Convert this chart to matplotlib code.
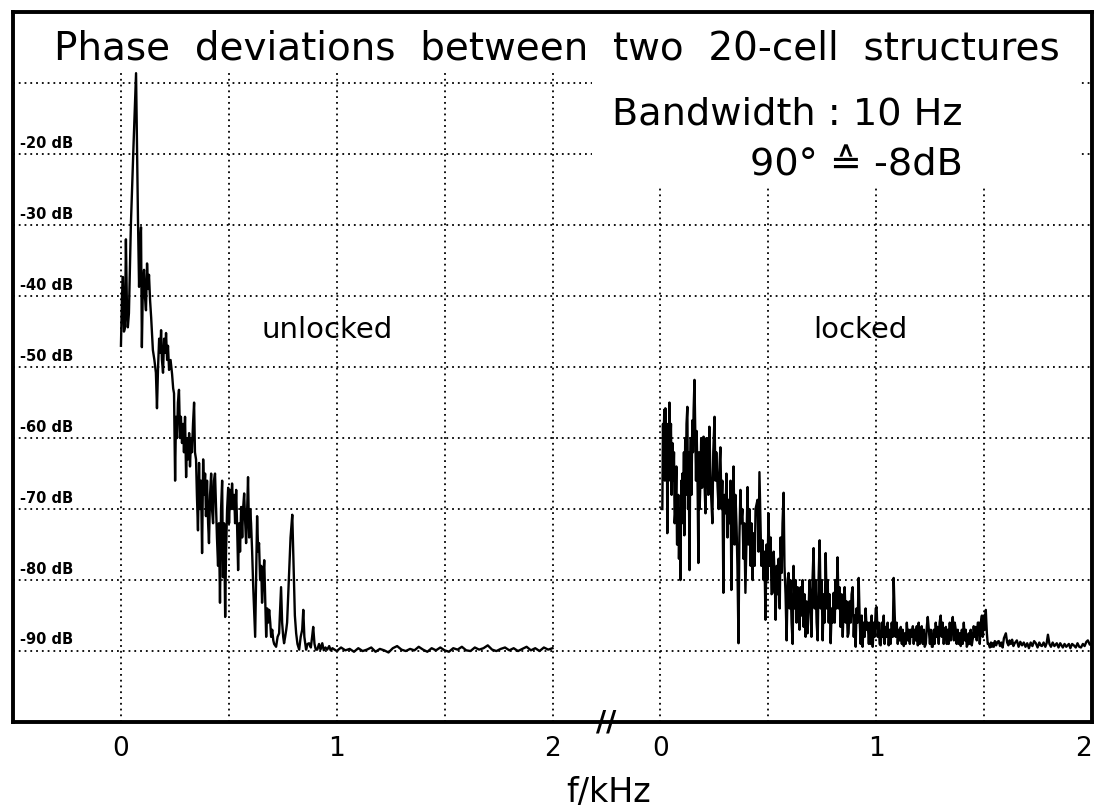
import matplotlib
matplotlib.use("Agg")
import matplotlib.pyplot as plt
from matplotlib.patches import Rectangle

plt.rcParams['font.family'] = ['DejaVu Sans']

# ---------------- data ----------------
title = "Phase deviations between two 20-cell structures"
info_text = "Bandwidth : 10 Hz\n90° ≙ -8dB"
panel_labels = ["unlocked", "locked"]
x_label = "f/kHz"

db_levels = [-20, -30, -40, -50, -60, -70, -80, -90]
db_grid = [-10, -20, -30, -40, -50, -60, -70, -80, -90]
freq_ticks = [0, 1, 2]
freq_grid = [0, 0.5, 1.0, 1.5, 2.0]

# (frequency in kHz, level in dB)
unlocked_points = [
    (0.000, -47), (0.005, -40), (0.009, -37.3), (0.014, -45), (0.019, -44.4),
    (0.023, -32), (0.028, -42), (0.032, -44.4), (0.037, -42.4), (0.046, -30),
    (0.058, -19), (0.070, -8.6), (0.075, -20), (0.079, -29.3), (0.084, -38.7),
    (0.088, -33), (0.093, -30.3), (0.097, -47.2), (0.102, -38), (0.107, -36.3),
    (0.111, -40), (0.116, -42), (0.121, -35.4), (0.126, -39), (0.130, -37),
    (0.135, -40.6), (0.140, -43), (0.148, -47.6), (0.155, -49), (0.162, -50.8),
    (0.167, -55.8), (0.172, -50), (0.177, -46), (0.182, -48), (0.186, -44.8),
    (0.190, -49), (0.195, -50.8), (0.200, -46), (0.205, -48), (0.209, -45.2),
    (0.214, -49), (0.218, -47), (0.223, -50.4), (0.230, -49), (0.237, -51),
    (0.242, -53), (0.246, -53.7), (0.251, -66), (0.255, -57), (0.260, -60),
    (0.264, -55), (0.269, -53.2), (0.274, -60), (0.278, -57), (0.283, -60.7),
    (0.288, -58), (0.292, -62), (0.297, -57), (0.302, -65.5), (0.306, -60),
    (0.311, -63), (0.316, -59.3), (0.320, -64), (0.325, -60), (0.329, -62),
    (0.334, -58), (0.339, -55), (0.343, -62), (0.348, -63), (0.352, -68),
    (0.357, -73), (0.362, -63.5), (0.366, -70), (0.371, -66), (0.376, -76.2),
    (0.381, -63), (0.385, -68), (0.390, -65), (0.394, -71), (0.399, -66),
    (0.404, -72), (0.408, -74.8), (0.413, -68), (0.418, -65), (0.422, -70),
    (0.427, -72), (0.431, -66), (0.436, -65), (0.441, -70), (0.445, -74),
    (0.450, -78), (0.454, -72), (0.459, -83.2), (0.464, -70), (0.469, -66),
    (0.473, -79.6), (0.478, -72), (0.483, -85.2), (0.487, -76), (0.492, -70),
    (0.497, -67), (0.501, -72), (0.506, -67.3), (0.510, -70), (0.515, -66.4),
    (0.520, -70), (0.525, -68), (0.529, -72), (0.534, -67.3), (0.538, -72),
    (0.543, -78.6), (0.548, -72), (0.552, -76), (0.557, -69.7), (0.562, -74),
    (0.566, -70), (0.571, -67.8), (0.576, -72), (0.580, -74.8), (0.585, -70),
    (0.589, -65.5), (0.594, -74), (0.599, -70), (0.603, -72), (0.608, -76),
    (0.613, -81), (0.617, -84), (0.622, -88), (0.627, -78), (0.631, -71),
    (0.636, -76), (0.640, -74.8), (0.645, -80), (0.650, -78), (0.654, -83.2),
    (0.659, -80), (0.664, -77.2), (0.668, -82), (0.673, -88), (0.678, -84),
    (0.682, -86), (0.687, -84.2), (0.692, -86), (0.696, -88), (0.701, -87),
    (0.706, -88.5), (0.710, -89), (0.719, -89.4), (0.726, -88), (0.733, -87.5),
    (0.738, -84), (0.742, -81), (0.747, -86), (0.752, -88), (0.756, -88.9),
    (0.761, -88), (0.766, -87), (0.770, -86), (0.778, -80), (0.786, -74),
    (0.794, -70.8), (0.800, -78), (0.806, -85), (0.812, -87.5), (0.818, -89),
    (0.826, -89.8), (0.833, -88), (0.840, -87), (0.845, -84.2), (0.850, -88),
    (0.858, -89.8), (0.865, -89), (0.872, -88.9), (0.880, -89.5), (0.886, -88),
    (0.891, -86.6), (0.897, -89), (0.903, -89.8), (0.910, -89.8), (0.918, -89),
    (0.925, -89.8), (0.933, -88.9), (0.940, -89.9), (0.948, -89.5), (0.956, -89.8),
    (0.965, -89.3), (0.972, -89.9), (0.980, -89.6), (1.00, -90.0), (1.02, -89.5),
    (1.04, -89.9), (1.06, -89.7), (1.08, -90.1), (1.10, -89.6), (1.12, -90.0),
    (1.14, -89.8), (1.16, -89.5), (1.18, -90.1), (1.20, -89.7), (1.22, -89.9),
    (1.24, -90.2), (1.26, -89.6), (1.28, -89.3), (1.30, -89.8), (1.32, -90.0),
    (1.34, -89.7), (1.36, -89.9), (1.38, -89.4), (1.40, -89.8), (1.42, -90.1),
    (1.44, -89.6), (1.46, -89.9), (1.48, -89.5), (1.50, -89.9), (1.52, -90.1),
    (1.54, -89.6), (1.56, -89.8), (1.58, -89.4), (1.60, -89.9), (1.62, -90.0),
    (1.64, -89.5), (1.66, -89.8), (1.68, -89.6), (1.70, -89.2), (1.72, -89.8),
    (1.74, -90.0), (1.76, -89.7), (1.78, -89.5), (1.80, -89.9), (1.82, -89.6),
    (1.84, -90.0), (1.86, -89.7), (1.88, -89.4), (1.90, -89.9), (1.92, -89.6),
    (1.94, -90.0), (1.96, -89.5), (1.98, -89.8), (2.00, -89.6),
]

# (frequency in kHz, level in dB)
locked_points = [
    (0.009, -70), (0.012, -58), (0.014, -62), (0.018, -56), (0.021, -66),
    (0.023, -55.8), (0.027, -64), (0.030, -58), (0.032, -73.4), (0.036, -60),
    (0.039, -66), (0.042, -55), (0.045, -62), (0.049, -58), (0.052, -68),
    (0.056, -60.7), (0.060, -66), (0.063, -62), (0.066, -72), (0.070, -70),
    (0.074, -64), (0.077, -75), (0.079, -75), (0.083, -68), (0.086, -77),
    (0.090, -70), (0.093, -80), (0.097, -66), (0.100, -72), (0.102, -65),
    (0.106, -70), (0.109, -62), (0.111, -73.7), (0.115, -60), (0.118, -68),
    (0.121, -58), (0.125, -55.6), (0.128, -70), (0.131, -62), (0.135, -78.6),
    (0.138, -64), (0.141, -60), (0.144, -68), (0.148, -57.5), (0.151, -62),
    (0.154, -56), (0.158, -51.8), (0.162, -60), (0.165, -66), (0.168, -59),
    (0.172, -65.5), (0.176, -77.6), (0.179, -62), (0.182, -70), (0.186, -65.5),
    (0.189, -60), (0.193, -67), (0.196, -62), (0.200, -59.8), (0.204, -66),
    (0.209, -70.6), (0.213, -60), (0.218, -62.7), (0.222, -68), (0.227, -58.4),
    (0.231, -64), (0.235, -68), (0.241, -72), (0.245, -62), (0.251, -57),
    (0.255, -66), (0.259, -62), (0.265, -66.9), (0.270, -70), (0.274, -64),
    (0.278, -61.3), (0.283, -70), (0.287, -66), (0.292, -81.8), (0.296, -68),
    (0.302, -70.6), (0.306, -65), (0.311, -74), (0.316, -68.7), (0.320, -72),
    (0.325, -66), (0.329, -81.4), (0.334, -70), (0.339, -64), (0.344, -75),
    (0.348, -68), (0.353, -72.5), (0.357, -78), (0.362, -88.9), (0.366, -74),
    (0.371, -67.3), (0.375, -72), (0.380, -70), (0.385, -77), (0.389, -72),
    (0.394, -81.8), (0.399, -74), (0.404, -66.9), (0.408, -75), (0.413, -70),
    (0.418, -78), (0.422, -72), (0.427, -80), (0.432, -73.4), (0.437, -78),
    (0.441, -70), (0.450, -68.7), (0.455, -76), (0.459, -64.8), (0.464, -72),
    (0.468, -78), (0.473, -74.4), (0.478, -80), (0.482, -76), (0.487, -85.6),
    (0.492, -75), (0.496, -80), (0.501, -70.6), (0.506, -78), (0.511, -74),
    (0.515, -82), (0.520, -81.8), (0.525, -76), (0.530, -80), (0.534, -85.6),
    (0.539, -78), (0.543, -82), (0.548, -77), (0.553, -84), (0.557, -74),
    (0.562, -79), (0.566, -72), (0.571, -67.7), (0.575, -78), (0.580, -82),
    (0.585, -88.5), (0.590, -80), (0.594, -79), (0.599, -84), (0.603, -80),
    (0.608, -86), (0.613, -89), (0.617, -78), (0.622, -84), (0.627, -80),
    (0.631, -86), (0.636, -81), (0.640, -82.4), (0.645, -87), (0.650, -81),
    (0.655, -85), (0.659, -80), (0.664, -86.6), (0.668, -82), (0.673, -88),
    (0.677, -83), (0.682, -87.5), (0.687, -84), (0.691, -80), (0.696, -83),
    (0.700, -88), (0.705, -80), (0.710, -75.5), (0.715, -84), (0.719, -80),
    (0.724, -86), (0.729, -88.5), (0.733, -80), (0.738, -74.4), (0.743, -84),
    (0.747, -80), (0.752, -88.5), (0.757, -82), (0.761, -86), (0.766, -76.2),
    (0.771, -84), (0.775, -80), (0.780, -86), (0.784, -82), (0.789, -88.9),
    (0.794, -84), (0.798, -86), (0.803, -81.8), (0.808, -86), (0.812, -80),
    (0.816, -84), (0.821, -76.8), (0.826, -84), (0.830, -81), (0.835, -86.6),
    (0.840, -82), (0.845, -88), (0.849, -84), (0.854, -81), (0.859, -86),
    (0.863, -83), (0.868, -88), (0.872, -87.5), (0.877, -83), (0.882, -86),
    (0.886, -82), (0.891, -81), (0.896, -88), (0.900, -85), (0.905, -89.4),
    (0.909, -84), (0.914, -86), (0.919, -79.7), (0.924, -86), (0.928, -89),
    (0.933, -85), (0.937, -89.4), (0.942, -86), (0.947, -88), (0.951, -84),
    (0.956, -87), (0.961, -86), (0.966, -89), (0.970, -86), (0.975, -89),
    (0.979, -85), (0.984, -89.4), (0.989, -86), (0.993, -88), (0.998, -84),
    (1.002, -83.8), (1.007, -88), (1.012, -86), (1.016, -89), (1.021, -89.2),
    (1.026, -86), (1.030, -88), (1.035, -85), (1.039, -89), (1.044, -86.6),
    (1.049, -88), (1.053, -86), (1.058, -89.2), (1.063, -87), (1.067, -89),
    (1.072, -86), (1.077, -88), (1.081, -79.7), (1.086, -85), (1.090, -88),
    (1.095, -86), (1.100, -89), (1.105, -87), (1.109, -88.5), (1.114, -86.6),
    (1.119, -89), (1.123, -87), (1.128, -89.3), (1.133, -87.5), (1.137, -89),
    (1.142, -86), (1.147, -88.5), (1.151, -87), (1.156, -89), (1.160, -87),
    (1.165, -88), (1.170, -86.5), (1.174, -89), (1.179, -87), (1.183, -88.5),
    (1.188, -86.5), (1.193, -89.2), (1.197, -86), (1.202, -89), (1.207, -88),
    (1.211, -86.5), (1.216, -89), (1.221, -87), (1.225, -89.4), (1.230, -89),
    (1.235, -86.5), (1.239, -85.2), (1.244, -87), (1.249, -89), (1.253, -87),
    (1.258, -89.4), (1.262, -89.4), (1.267, -87), (1.271, -89), (1.276, -86),
    (1.281, -88), (1.285, -86.6), (1.290, -89), (1.294, -86), (1.299, -85),
    (1.304, -88), (1.308, -86), (1.313, -89), (1.318, -87), (1.323, -86.6),
    (1.327, -89), (1.332, -87), (1.336, -89), (1.341, -86), (1.346, -88.5),
    (1.350, -86.5), (1.355, -85.2), (1.360, -88.5), (1.364, -86), (1.369, -87),
    (1.373, -89), (1.378, -87), (1.383, -89), (1.387, -87.5), (1.392, -89.3),
    (1.397, -87), (1.401, -89), (1.406, -86), (1.411, -88.5), (1.415, -87),
    (1.420, -89.4), (1.425, -89), (1.429, -87.5), (1.434, -89), (1.438, -87),
    (1.443, -89.2), (1.448, -88.2), (1.452, -86.5), (1.457, -88), (1.462, -86.6),
    (1.466, -88.5), (1.471, -86), (1.476, -86), (1.480, -89), (1.485, -86),
    (1.490, -85), (1.494, -88), (1.499, -85), (1.503, -87), (1.508, -84.2),
    (1.513, -87.5), (1.517, -89), (1.522, -89), (1.527, -89.5), (1.532, -88.8),
    (1.536, -89.4), (1.541, -88.9), (1.545, -89.4), (1.550, -88.6), (1.556, -89.2),
    (1.562, -88.7), (1.568, -88.6), (1.574, -89.3), (1.580, -88.8), (1.586, -89.5),
    (1.592, -88.2), (1.601, -87.5), (1.607, -88.8), (1.613, -89.2), (1.618, -88.5),
    (1.624, -89.0), (1.630, -88.4), (1.636, -89.3), (1.642, -88.9), (1.652, -88.5),
    (1.660, -89.4), (1.668, -88.7), (1.676, -89.2), (1.684, -88.8), (1.692, -89.4),
    (1.700, -88.9), (1.708, -89.6), (1.716, -88.8), (1.724, -89.3), (1.732, -88.6),
    (1.740, -88.9), (1.748, -89.5), (1.756, -88.8), (1.762, -89.2), (1.768, -89.3),
    (1.776, -88.8), (1.784, -89.4), (1.790, -88.9), (1.796, -87.7), (1.803, -89.0),
    (1.810, -89.4), (1.818, -88.8), (1.826, -89.3), (1.837, -88.9), (1.845, -89.5),
    (1.853, -88.9), (1.865, -89.5), (1.873, -89.0), (1.881, -89.4), (1.893, -89.0),
    (1.900, -89.6), (1.908, -89.0), (1.916, -89.2), (1.925, -89.5), (1.933, -88.9),
    (1.941, -89.4), (1.949, -89.5), (1.958, -89.0), (1.966, -89.3), (1.974, -88.7),
    (1.981, -88.5), (1.990, -89.1), (2.000, -89.0),
]

unlocked_f = [p[0] for p in unlocked_points]
unlocked_db = [p[1] for p in unlocked_points]
locked_f = [p[0] for p in locked_points]
locked_db = [p[1] for p in locked_points]

# ---------------- layout ----------------
right_offset = 2.5   # where the second (locked) frequency axis starts

fig = plt.figure(figsize=(10.97, 8.09), dpi=100)
ax = fig.add_axes([0.0119, 0.1075, 0.9835, 0.8775])
ax.set_xlim(-0.5, 4.5)
ax.set_ylim(-100, 0)

grid_kw = dict(color='black', linestyle=(0, (1, 2.2)), linewidth=1.3, zorder=1)
for g in db_grid:
    ax.axhline(g, **grid_kw)
for g in freq_grid:
    ax.axvline(g, **grid_kw)
    if g + right_offset < 4.5:
        ax.axvline(g + right_offset, **grid_kw)

# white areas behind the titles
ax.add_patch(Rectangle((0, 0.918), 1, 0.09, transform=ax.transAxes,
                       facecolor='white', edgecolor='none', zorder=2))
ax.add_patch(Rectangle((0.537, 0.756), 0.452, 0.2, transform=ax.transAxes,
                       facecolor='white', edgecolor='none', zorder=2))

ax.plot(unlocked_f, unlocked_db, color='black', linewidth=1.7, zorder=3)
ax.plot([f + right_offset for f in locked_f], locked_db, color='black',
        linewidth=1.7, zorder=3)

for lv in db_levels:
    ax.text(-0.468, lv + 0.5, f"{lv} dB", fontsize=10.5, fontweight='bold',
            ha='left', va='bottom', zorder=4)

ax.text(0.504, 0.949, "  ".join(title.split()), transform=ax.transAxes,
        fontsize=28, ha='center', va='center', zorder=4)
ax.text(0.880, 0.820, info_text, transform=ax.transAxes, fontsize=27.5,
        ha='right', va='center', multialignment='right', linespacing=1.55,
        zorder=4)
ax.text(0.956, -44.8, panel_labels[0], fontsize=21, ha='center', va='center', zorder=4)
ax.text(0.928 + right_offset, -44.8, panel_labels[1], fontsize=21, ha='center',
        va='center', zorder=4)

ticks = freq_ticks + [t + right_offset for t in freq_ticks]
ax.set_xticks(ticks)
ax.set_xticklabels([str(t) for t in freq_ticks] * 2, fontsize=19)
ax.tick_params(axis='x', length=0, pad=10)
ax.get_xticklabels()[-1].set_horizontalalignment('right')
ax.set_yticks([])

for s in ax.spines.values():
    s.set_linewidth(2.8)
    s.set_color('black')

ax.text(2.25, -100, "//", fontsize=20, fontweight='bold', ha='center', va='center',
        clip_on=False, zorder=5)
ax.text(2.26, -109.9, x_label, fontsize=24, ha='center', va='center', clip_on=False)

fig.savefig("out.png", dpi=100)
